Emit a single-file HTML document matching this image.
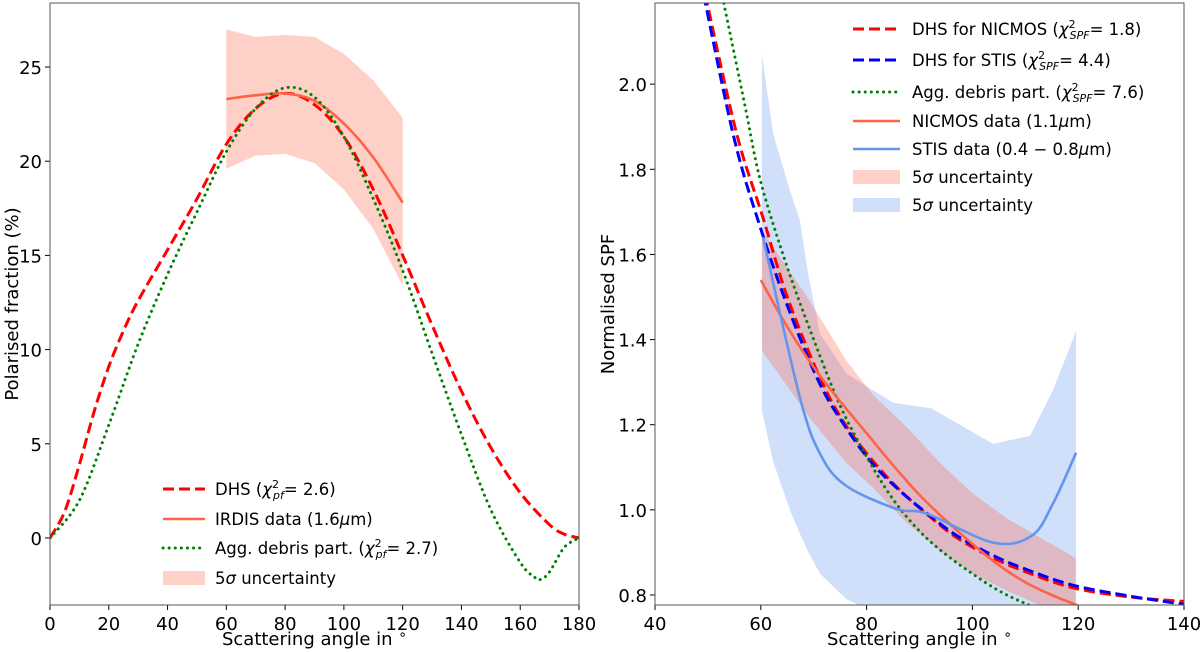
<!DOCTYPE html>
<html><head><meta charset="utf-8"><style>
body{margin:0;background:#fff;}
svg{display:block;font-family:"DejaVu Sans","Liberation Sans",sans-serif;}
</style></head><body>
<svg id="fig" width="1200" height="652" viewBox="0 0 1200 652"></svg>
<script>
// ---- Left panel data ----
const leftDhsX=[0,5,10,15,20,25,30,40,50,60,70,80,90,100,110,120,130,140,150,160,170,175,180];
const leftDhsY=[0,1.4,3.9,6.7,9.1,11,12.6,15.3,18,20.9,22.8,23.6,23,21.3,18.5,15,11.3,7.8,4.8,2.4,0.7,0.2,0];
const leftAggX=[0,10,20,30,40,50,60,70,80,90,100,110,120,130,140,150,160,165,167,170,175,180];
const leftAggY=[0,2,6,10.3,14,17.3,20.5,22.8,23.9,23.4,21.3,18,14.2,9.8,5.5,1.5,-1.3,-2.1,-2.2,-1.8,-0.5,0];
const irdisX=[60,70,80,90,100,110,120];
const irdisY=[23.3,23.5,23.6,23.2,22,20.2,17.8];
const irdisUp=[27,26.6,26.7,26.6,25.7,24.3,22.3];
const irdisLo=[19.6,20.3,20.4,19.9,18.5,16.4,13.4];
const leftXTicks=[0,20,40,60,80,100,120,140,160,180];
const leftYTicks=[0,5,10,15,20,25];
// ---- Right panel data ----
const dhsNX=[49.5,55.4,60.4,65,71.2,76,81.2,86,91.4,97,103.9,110,119,130,140];
const dhsNY=[2.21,1.885,1.687,1.5,1.31,1.2,1.115,1.05,0.99,0.935,0.887,0.855,0.817,0.795,0.785];
const dhsSX=[49.2,55,60,65,71,76,81,86,91.4,97,103.9,110,119,130,140];
const dhsSY=[2.21,1.87,1.66,1.48,1.30,1.195,1.11,1.048,0.992,0.94,0.893,0.861,0.823,0.797,0.778];
const aggRX=[53,57,60,65,70,75,80,85,90,95,100,105,110,115,118];
const aggRY=[2.19,1.95,1.77,1.57,1.40,1.245,1.125,1.025,0.95,0.895,0.85,0.81,0.78,0.755,0.745];
const nicX=[60,65,70,75,80,85,90,95,100,105,110,115,120];
const nicY=[1.54,1.43,1.335,1.255,1.18,1.105,1.035,0.975,0.92,0.87,0.83,0.80,0.775];
const nicBX=[60.2,69.3,76.2,81.2,87.6,93.9,100.1,106.5,119.5];
const nicUp=[1.656,1.49,1.35,1.27,1.194,1.11,1.038,0.98,0.887];
const nicLo=[1.374,1.215,1.11,1.052,0.97,0.904,0.85,0.81,0.74];
const stisX=[60.4,67.4,71.4,76.2,85.7,91.4,103.9,111.2,115.2,119.6];
const stisY=[1.641,1.264,1.127,1.056,1.002,0.991,0.923,0.939,1.014,1.134];
const stisBX=[60.2,62.3,65.5,67.4,69,71.2,76.2,85,92.3,103.9,110.9,115.2,119.6];
const stisUp=[2.07,1.885,1.75,1.68,1.55,1.414,1.32,1.252,1.238,1.155,1.174,1.28,1.42];
const stisLo=[1.233,1.115,1.0,0.944,0.9,0.85,0.79,0.74,0.72,0.72,0.72,0.72,0.72];
const rightXTicks=[40,60,80,100,120,140];
const rightYTicks=[0.8,1.0,1.2,1.4,1.6,1.8,2.0];

const NS="http://www.w3.org/2000/svg";
const svg=document.getElementById('fig');
function mk(tag,attrs,parent){const e=document.createElementNS(NS,tag);for(const k in attrs)e.setAttribute(k,attrs[k]);(parent||svg).appendChild(e);return e;}
const L={x0:50,x1:579,y0:3,y1:605,xmin:0,xmax:180,ymin:-3.56,ymax:28.4};
const R={x0:655,x1:1184,y0:3,y1:605,xmin:40,xmax:140,ymin:0.7765,ymax:2.1906};
function sx(a,v){return a.x0+(v-a.xmin)/(a.xmax-a.xmin)*(a.x1-a.x0);}
function sy(a,v){return a.y1-(v-a.ymin)/(a.ymax-a.ymin)*(a.y1-a.y0);}
function smooth(pts){
  let d='M'+pts[0][0].toFixed(1)+','+pts[0][1].toFixed(1);
  for(let i=0;i<pts.length-1;i++){
    const p0=pts[Math.max(i-1,0)],p1=pts[i],p2=pts[i+1],p3=pts[Math.min(i+2,pts.length-1)];
    const c1=[p1[0]+(p2[0]-p0[0])/6,p1[1]+(p2[1]-p0[1])/6];
    const c2=[p2[0]-(p3[0]-p1[0])/6,p2[1]-(p3[1]-p1[1])/6];
    d+=' C'+c1[0].toFixed(1)+','+c1[1].toFixed(1)+' '+c2[0].toFixed(1)+','+c2[1].toFixed(1)+' '+p2[0].toFixed(1)+','+p2[1].toFixed(1);
  }
  return d;
}
function pts(a,xs,ys){return xs.map((x,i)=>[sx(a,x),sy(a,ys[i])]);}
function line(a,xs,ys,style,g,name){
  const p=mk('path',Object.assign({d:smooth(pts(a,xs,ys)),fill:'none'},style),g);
  
  
  return p;
}
function band(a,xs,up,lo,fill,g,name){
  const top=pts(a,xs,up),bot=pts(a,xs,lo).reverse();
  const d='M'+top.concat(bot).map(p=>p[0].toFixed(1)+','+p[1].toFixed(1)).join(' L')+'Z';
  const p=mk('path',{d:d,fill:fill,stroke:'none'},g);
  
  
}
function axes(a,xt,yt,xlab,ylab,ylx,fmt,name){
  const g=mk('g',{});
  
  
  const clipId=name+'-clip';
  const cp=mk('clipPath',{id:clipId},g);mk('rect',{x:a.x0,y:a.y0,width:a.x1-a.x0,height:a.y1-a.y0},cp);
  const plot=mk('g',{'clip-path':'url(#'+clipId+')'},g);
  
  
  xt.forEach(v=>{const x=sx(a,v);mk('line',{x1:x,x2:x,y1:a.y1,y2:a.y1+5,stroke:'#000','stroke-width':1},g);
    const t=mk('text',{x:x,y:a.y1+25,'text-anchor':'middle','font-size':18},g);t.textContent=v;
    });
  yt.forEach(v=>{const y=sy(a,v);mk('line',{x1:a.x0-5,x2:a.x0,y1:y,y2:y,stroke:'#000','stroke-width':1},g);
    const t=mk('text',{x:a.x0-8,y:y+7,'text-anchor':'end','font-size':18},g);t.textContent=fmt(v);
    });
  const xl=mk('text',{x:(a.x0+a.x1)/2,y:645,'text-anchor':'middle','font-size':18},g);xl.innerHTML=xlab;
  
  const yl=mk('text',{x:0,y:0,'text-anchor':'middle','font-size':18,transform:'translate('+ylx+','+((a.y0+a.y1)/2)+') rotate(-90)'},g);yl.textContent=ylab;
  
  return {g,plot};
}
const red={stroke:'#ff0000','stroke-width':3,'stroke-dasharray':'11,5'};
const blue={stroke:'#0000ff','stroke-width':3,'stroke-dasharray':'11,5'};
const green={stroke:'#008000','stroke-width':3,'stroke-dasharray':'0.1,6','stroke-linecap':'round'};
const tom={stroke:'#ff6347','stroke-width':2.6};
const corn={stroke:'#6495ed','stroke-width':2.6};
const xlabHtml='Scattering angle in <tspan dy="-6" font-size="14">∘</tspan>';

const A=axes(L,leftXTicks,leftYTicks,xlabHtml,'Polarised fraction (%)',18,v=>String(v),'left-chart');
band(L,irdisX,irdisUp,irdisLo,'rgba(255,99,71,0.3)',A.plot,'irdis-uncertainty-band');
line(L,leftDhsX,leftDhsY,red,A.plot,'dhs-line');
line(L,irdisX,irdisY,tom,A.plot,'irdis-data-line');
line(L,leftAggX,leftAggY,green,A.plot,'agg-debris-line');
mk('rect',{x:L.x0,y:L.y0,width:L.x1-L.x0,height:L.y1-L.y0,fill:'none',stroke:'#555','stroke-width':1},A.g);

const B=axes(R,rightXTicks,rightYTicks,xlabHtml,'Normalised SPF',614,v=>v.toFixed(1),'right-chart');
band(R,stisBX,stisUp,stisLo,'rgba(100,149,237,0.3)',B.plot,'stis-uncertainty-band');
band(R,nicBX,nicUp,nicLo,'rgba(255,99,71,0.3)',B.plot,'nicmos-uncertainty-band');
line(R,dhsNX,dhsNY,red,B.plot,'dhs-nicmos-line');
line(R,dhsSX,dhsSY,blue,B.plot,'dhs-stis-line');
line(R,aggRX,aggRY,green,B.plot,'agg-debris-line-right');
line(R,nicX,nicY,tom,B.plot,'nicmos-data-line');
line(R,stisX,stisY,corn,B.plot,'stis-data-line');
mk('rect',{x:R.x0,y:R.y0,width:R.x1-R.x0,height:R.y1-R.y0,fill:'none',stroke:'#555','stroke-width':1},B.g);

function legend(entries,lx0,lx1,tx,name){
  const g=mk('g',{});
  
  
  entries.forEach(e=>{
    const eg=mk('g',{},g);
    
    
    if(e.patch) mk('rect',{x:lx0,y:e.y-7,width:lx1-lx0,height:14,fill:e.patch},eg);
    else mk('line',Object.assign({x1:lx0,x2:lx1,y1:e.y,y2:e.y},e.style),eg);
    const t=mk('text',{x:tx,y:e.y+6,'font-size':16.5},eg);t.innerHTML=e.html;
  });
}
const chi=(s)=>'(<tspan font-style="italic">χ</tspan><tspan font-size="11" dy="-7">2</tspan><tspan font-size="11" font-style="italic" dx="-6" dy="11">'+s+'</tspan><tspan dy="-4">=</tspan><tspan> </tspan>';
legend([
 {y:489,style:red,html:'DHS '+chi('pf')+'2.6)'},
 {y:519,style:tom,html:'IRDIS data (1.6<tspan font-style="italic">μ</tspan>m)'},
 {y:548,style:green,html:'Agg. debris part. '+chi('pf')+'2.7)'},
 {y:578,patch:'rgba(255,99,71,0.3)',html:'5<tspan font-style="italic">σ</tspan> uncertainty'}
],163,205,215,'left-legend');
legend([
 {y:29,style:red,html:'DHS for NICMOS '+chi('SPF')+'1.8)'},
 {y:60,style:blue,html:'DHS for STIS '+chi('SPF')+'4.4)'},
 {y:92,style:green,html:'Agg. debris part. '+chi('SPF')+'7.6)'},
 {y:121,style:tom,html:'NICMOS data (1.1<tspan font-style="italic">μ</tspan>m)'},
 {y:149,style:corn,html:'STIS data (0.4 − 0.8<tspan font-style="italic">μ</tspan>m)'},
 {y:177,patch:'rgba(255,99,71,0.3)',html:'5<tspan font-style="italic">σ</tspan> uncertainty'},
 {y:205,patch:'rgba(100,149,237,0.3)',html:'5<tspan font-style="italic">σ</tspan> uncertainty'}
],853,900,912,'right-legend');
</script>
</body></html>
